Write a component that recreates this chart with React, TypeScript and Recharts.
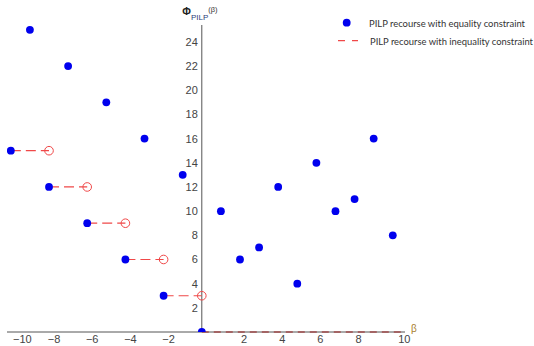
import React from 'react';
import { ScatterChart, Scatter, XAxis, YAxis, ReferenceLine, ReferenceDot, Legend } from 'recharts';

// ---- data ----
const eqX = [-10, -9, -8, -7, -6, -5, -4, -3, -2, -1, 0, 1, 2, 3, 4, 5, 6, 7, 8, 9, 10];
const eqY = [15, 25, 12, 22, 9, 19, 6, 16, 3, 13, 0, 10, 6, 7, 12, 4, 14, 10, 11, 16, 8];
const ineqStartX = [-10, -8, -6, -4, -2];
const ineqX = [-8, -6, -4, -2, 0];
const ineqY = [15, 12, 9, 6, 3];
const xTicks = [-10, -8, -6, -4, -2, 2, 4, 6, 8, 10];
const yTicks = [2, 4, 6, 8, 10, 12, 14, 16, 18, 20, 22, 24];
const xDomain: [number, number] = [-10.2, 10.64];
const yDomain: [number, number] = [0, 25.4];
const legendLabels = ['PILP recourse with equality constraint', 'PILP recourse with inequality constraint'];
const xLabel = 'β';

const eqData = eqX.map((x, i) => ({ x, y: eqY[i] }));
const ineqData = ineqX.map((x, i) => ({ x, y: ineqY[i] }));

const BLUE = '#0000ee';
const RED = '#f04848';
const AXIS = '#555';
const TICK_FONT = '"Liberation Sans", Arial, sans-serif';

const XTick = (props: any) => {
  const { x, y, payload } = props;
  const v = payload.value as number;
  const dx = Math.abs(v) === 10 ? 11.5 : v < 0 ? 5 : 4;
  const s = v < 0 ? `\u2212${-v}` : `${v}`;
  return (
    <text x={x + dx} y={y + 7} textAnchor="middle" dominantBaseline="central" fontSize={11} fill="#444" fontFamily={TICK_FONT}>
      {s}
    </text>
  );
};

const makeYTick = (v: number) => (p: any) => (
  <text x={p.cx - 4} y={p.cy} textAnchor="end" dominantBaseline="central" fontSize={11} fill="#444" fontFamily={TICK_FONT}>
    {v}
  </text>
);

const YAxisTitle = (props: any) => {
  const vb = props.viewBox || {};
  const x = vb.x ?? 0;
  const y = vb.y ?? 0;
  return (
    <text x={x - 19.5} y={y - 10.5} fontFamily={TICK_FONT} fill="#222">
      <tspan fontSize={10.5} fontWeight="bold">Φ</tspan>
      <tspan fontSize={8} dy={5} fill="#2e3f78">PILP</tspan>
      <tspan fontSize={7.5} dy={-7.5} fill="#333">(β)</tspan>
    </text>
  );
};

const XAxisTitle = (props: any) => {
  const vb = props.viewBox || {};
  return (
    <text x={vb.x + vb.width + 9} y={vb.y - 4} textAnchor="middle" dominantBaseline="central" fontSize={10} fill="#a8802e" fontFamily={TICK_FONT}>
      {xLabel}
    </text>
  );
};

const LegendContent = () => (
  <svg width={204} height={40} style={{ display: 'block' }}>
    <circle cx={16.7} cy={10.7} r={3.9} fill={BLUE} />
    <text x={39} y={11} dominantBaseline="central" fontSize={9.5} fill="#333" fontFamily="Lato, 'Open Sans', sans-serif" textLength={156} lengthAdjust="spacingAndGlyphs">
      {legendLabels[0]}
    </text>
    <line x1={8} x2={28} y1={28.7} y2={28.7} stroke={RED} strokeDasharray="7 7" strokeWidth={1.2} />
    <text x={40} y={29} dominantBaseline="central" fontSize={9.5} fill="#333" fontFamily="Lato, 'Open Sans', sans-serif" textLength={163} lengthAdjust="spacingAndGlyphs">
      {legendLabels[1]}
    </text>
  </svg>
);

export default function App() {
  return (
    <div style={{ position: 'absolute', left: 0, top: 0, width: 534, height: 346, background: '#fff' }}>
      <ScatterChart width={534} height={346} margin={{ top: 25, right: 129, bottom: 0, left: 7 }}>
        <XAxis
          type="number"
          dataKey="x"
          domain={xDomain}
          ticks={xTicks}
          interval={0}
          tickLine={false}
          tickSize={0}
          tickMargin={0}
          height={14}
          axisLine={{ stroke: AXIS, strokeWidth: 1 }}
          tick={<XTick />}
          label={<XAxisTitle />}
          allowDataOverflow
        />
        <YAxis type="number" dataKey="y" domain={yDomain} hide width={0} allowDataOverflow />
        <ReferenceLine x={0} stroke={AXIS} strokeWidth={1} label={<YAxisTitle />} />
        <ReferenceLine
          segment={[{ x: 0, y: 0 }, { x: xDomain[1], y: 0 }]}
          stroke={RED}
          strokeWidth={1.3}
          strokeDasharray="7 5"
        />
        {ineqStartX.map((x0, i) => (
          <ReferenceLine
            key={`seg${i}`}
            segment={[{ x: x0, y: ineqY[i] }, { x: ineqX[i], y: ineqY[i] }]}
            stroke={RED}
            strokeWidth={1.2}
            strokeDasharray="10 5"
          />
        ))}
        {yTicks.map((v) => (
          <ReferenceDot key={`yt${v}`} x={0} y={v} r={0} ifOverflow="visible" shape={makeYTick(v)} />
        ))}
        <Scatter
          data={ineqData}
          isAnimationActive={false}
          shape={(p: any) => <circle cx={p.cx} cy={p.cy} r={4.3} fill="none" stroke={RED} strokeWidth={1} />}
        />
        <Scatter
          data={eqData}
          isAnimationActive={false}
          shape={(p: any) => <circle cx={p.cx} cy={p.cy} r={3.9} fill={BLUE} />}
        />
        <Legend
          layout="horizontal"
          verticalAlign="middle"
          align="center"
          wrapperStyle={{ left: 330, top: 12, width: 204, height: 40 }}
          content={<LegendContent />}
        />
      </ScatterChart>
    </div>
  );
}
